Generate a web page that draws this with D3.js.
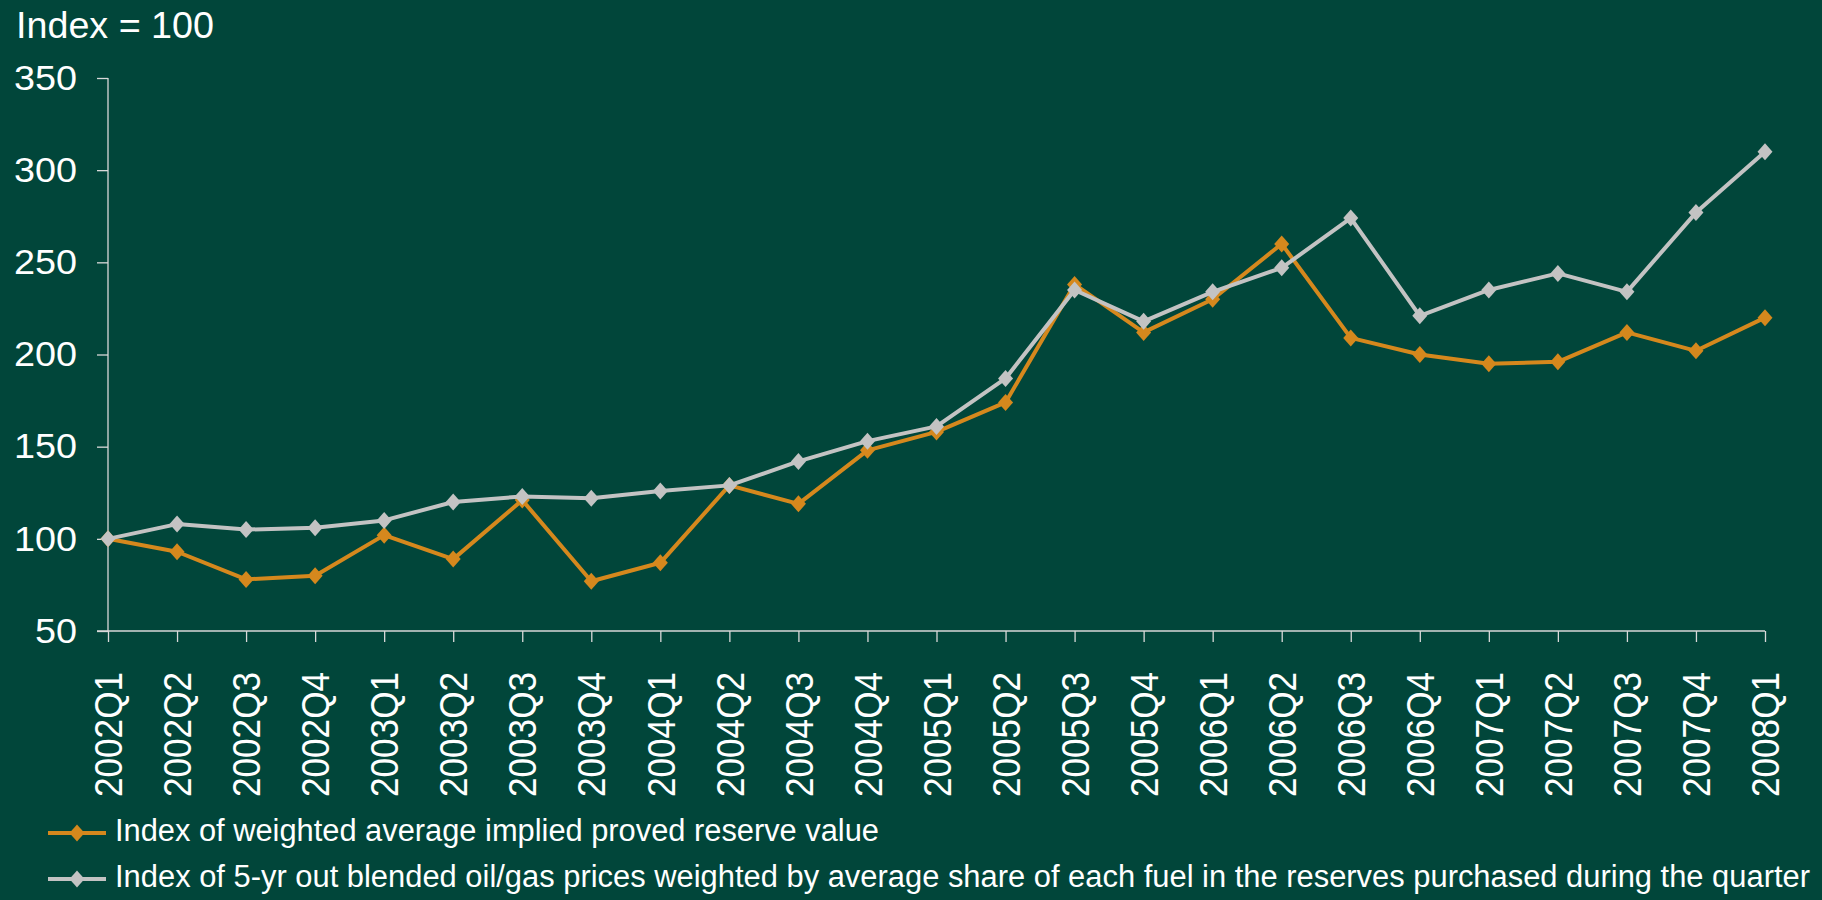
<!DOCTYPE html>
<html>
<head>
<meta charset="utf-8">
<script src="https://cdn.jsdelivr.net/npm/d3@7"></script>
<style>
  body { margin: 0; background: #01463a; }
  svg { display: block; font-family: "Liberation Sans", Arial, sans-serif; }
</style>
</head>
<body>
<div id="chart"></div>
<script>
var quarters = ["2002Q1", "2002Q2", "2002Q3", "2002Q4", "2003Q1", "2003Q2", "2003Q3", "2003Q4",
  "2004Q1", "2004Q2", "2004Q3", "2004Q4", "2005Q1", "2005Q2", "2005Q3", "2005Q4",
  "2006Q1", "2006Q2", "2006Q3", "2006Q4", "2007Q1", "2007Q2", "2007Q3", "2007Q4", "2008Q1"];

var reserveValue = [100, 93, 78, 80, 102, 89, 121, 77, 87, 129, 119, 148, 158, 174, 238, 212,
  230, 260, 209, 200, 195, 196, 212, 202, 220];

var blendedPrices = [100, 108, 105, 106, 110, 120, 123, 122, 126, 129, 142, 153, 161, 187, 235, 218,
  234, 247, 274, 221, 235, 244, 234, 277, 310];

var yTicks = [50, 100, 150, 200, 250, 300, 350];

var seriesNames = [
  "Index of weighted average implied proved reserve value",
  "Index of 5-yr out blended oil/gas prices weighted by average share of each fuel in the reserves purchased during the quarter"
];
var seriesColors = ["#d5881d", "#c3c3c3"];

var svgWidth = 1822;
var svgHeight = 900;

var margin = { top: 78, right: 57, bottom: 269, left: 108 };
var width = svgWidth - margin.left - margin.right;
var height = svgHeight - margin.top - margin.bottom;

var svg = d3.select("#chart")
  .append("svg")
  .attr("width", svgWidth)
  .attr("height", svgHeight);

svg.append("rect")
  .attr("width", svgWidth)
  .attr("height", svgHeight)
  .attr("fill", "#01463a");

var chartGroup = svg.append("g")
  .attr("transform", `translate(${margin.left}, ${margin.top})`);

var xScale = d3.scalePoint()
  .domain(quarters)
  .range([0, width]);

var yScale = d3.scaleLinear()
  .domain([50, 350])
  .range([height, 0]);

var axisColor = "#d9d9d9";

// y axis
var leftAxis = d3.axisLeft(yScale)
  .tickValues(yTicks)
  .tickSize(11)
  .tickPadding(20);

var yAxis = chartGroup.append("g").call(leftAxis);
yAxis.select(".domain").attr("stroke", axisColor).attr("stroke-width", 1.3).attr("d", `M0,0V${height}`);
yAxis.selectAll(".tick line").attr("stroke", axisColor).attr("stroke-width", 1.3);
yAxis.selectAll(".tick text")
  .attr("fill", "#ffffff")
  .attr("font-size", "35px")
  .attr("font-family", "Liberation Sans, Arial, sans-serif")
  .attr("textLength", d => String(d).length * 21)
  .attr("lengthAdjust", "spacingAndGlyphs");

// x axis
var bottomAxis = d3.axisBottom(xScale)
  .tickSize(11)
  .tickPadding(0);

var xAxis = chartGroup.append("g")
  .attr("transform", `translate(0, ${height})`)
  .call(bottomAxis);
xAxis.select(".domain").attr("stroke", axisColor).attr("stroke-width", 1.3).attr("d", `M-11,0H${width}`);
xAxis.selectAll(".tick line").attr("stroke", axisColor).attr("stroke-width", 1.3);
xAxis.selectAll(".tick text")
  .attr("fill", "#ffffff")
  .attr("font-size", "38px")
  .attr("font-family", "Liberation Sans, Arial, sans-serif")
  .attr("text-anchor", "end")
  .attr("transform", "rotate(-90)")
  .attr("x", -41)
  .attr("y", 0)
  .attr("dy", "0.36em")
  .attr("textLength", 125)
  .attr("lengthAdjust", "spacingAndGlyphs");

// lines and diamond markers
var diamond = "M0,-8.5L7.5,0L0,8.5L-7.5,0Z";
var allSeries = [reserveValue, blendedPrices];

var line = d3.line()
  .x((d, i) => xScale(quarters[i]))
  .y(d => yScale(d));

allSeries.forEach(function(values, s) {
  chartGroup.append("path")
    .datum(values)
    .attr("fill", "none")
    .attr("stroke", seriesColors[s])
    .attr("stroke-width", 4)
    .attr("stroke-linejoin", "round")
    .attr("d", line);

  chartGroup.selectAll(".marker" + s)
    .data(values)
    .enter()
    .append("path")
    .attr("class", "marker" + s)
    .attr("d", diamond)
    .attr("fill", seriesColors[s])
    .attr("transform", (d, i) => `translate(${xScale(quarters[i])}, ${yScale(d)})`);
});

// axis title
svg.append("text")
  .attr("x", 16)
  .attr("y", 38)
  .attr("fill", "#ffffff")
  .attr("font-size", "36px")
  .attr("textLength", 198)
  .attr("lengthAdjust", "spacingAndGlyphs")
  .text("Index = 100");

// legend
var legendWidths = [764, 1695];
var legend = svg.append("g");
seriesNames.forEach(function(name, s) {
  var ly = 833 + s * 46;
  legend.append("line")
    .attr("x1", 48).attr("x2", 106)
    .attr("y1", ly).attr("y2", ly)
    .attr("stroke", seriesColors[s])
    .attr("stroke-width", 4);
  legend.append("path")
    .attr("d", diamond)
    .attr("fill", seriesColors[s])
    .attr("transform", `translate(77, ${ly})`);
  legend.append("text")
    .attr("x", 115)
    .attr("y", ly + 8)
    .attr("fill", "#ffffff")
    .attr("font-size", "31px")
    .attr("textLength", legendWidths[s])
    .attr("lengthAdjust", "spacingAndGlyphs")
    .text(name);
});
</script>
</body>
</html>
